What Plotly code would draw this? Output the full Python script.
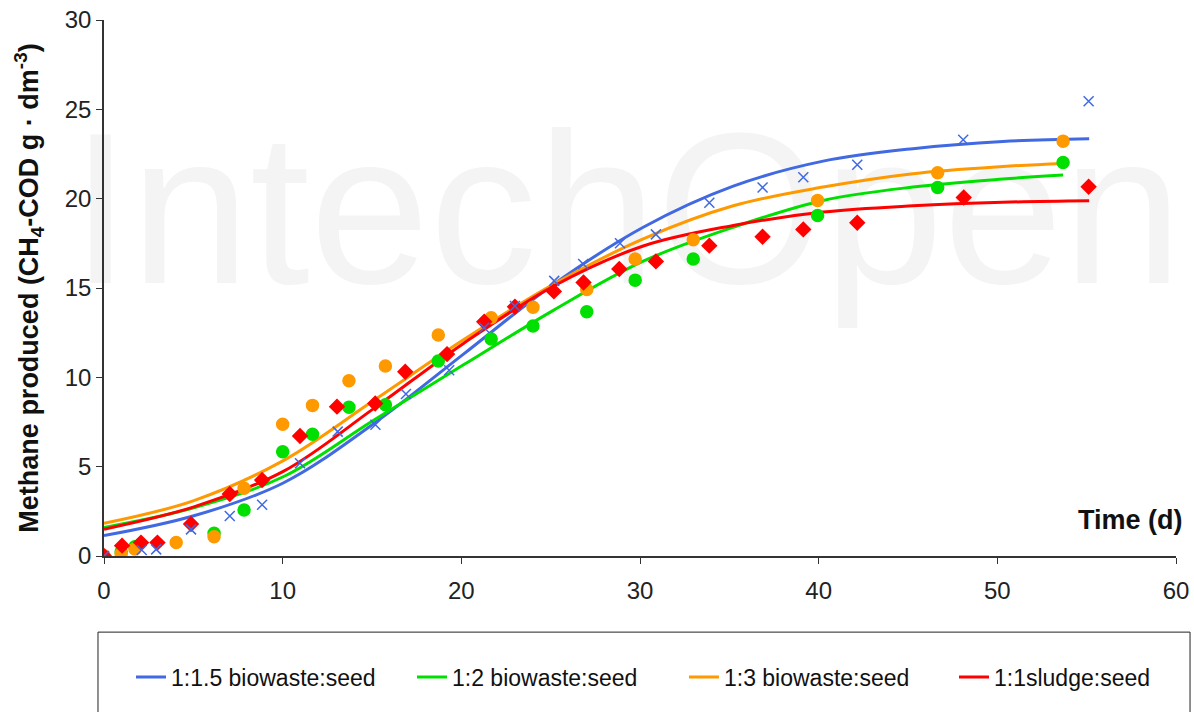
import plotly.graph_objects as go

# measured points (time in days, methane as CH4-COD g/dm3)
blue_t = [0, 2.11, 2.92, 4.87, 7.04, 8.85, 10.97, 13.08, 15.19, 16.9, 19.32, 21.28, 23.0,
          25.2, 26.82, 28.88, 30.89, 33.88, 36.86, 39.14, 42.16, 48.09, 55.11]
blue_y = [0, 0.34, 0.37, 1.49, 2.24, 2.87, 5.19, 6.96, 7.35, 9.07, 10.4, 12.78, 13.99,
          15.4, 16.34, 17.5, 18.0, 19.77, 20.63, 21.2, 21.9, 23.3, 25.45]

green_t = [0, 0.96, 1.73, 6.16, 7.84, 10.0, 11.67, 13.71, 15.75, 18.71, 21.67, 24.01,
           27.02, 29.73, 32.98, 39.94, 46.66, 53.68]
green_y = [0, 0.24, 0.52, 1.27, 2.57, 5.84, 6.81, 8.32, 8.47, 10.91, 12.14, 12.87,
           13.67, 15.44, 16.62, 19.06, 20.63, 22.03]

orange_t = [0, 0.96, 1.73, 4.04, 6.16, 7.84, 10.0, 11.67, 13.71, 15.75, 18.71, 21.67,
            24.01, 27.02, 29.73, 32.98, 39.94, 46.66, 53.68]
orange_y = [0, 0.13, 0.39, 0.75, 1.08, 3.79, 7.37, 8.43, 9.81, 10.63, 12.37, 13.34,
            13.92, 14.92, 16.62, 17.7, 19.9, 21.45, 23.22]

red_t = [0, 1.01, 2.07, 2.99, 4.87, 7.04, 8.85, 10.97, 13.04, 15.18, 16.86, 19.2, 21.28,
         23.0, 25.18, 26.84, 28.84, 30.89, 33.88, 36.86, 39.14, 42.16, 48.12, 55.11]
red_y = [0, 0.58, 0.75, 0.75, 1.79, 3.47, 4.25, 6.72, 8.36, 8.54, 10.31, 11.3, 13.11,
         13.95, 14.81, 15.31, 16.06, 16.49, 17.37, 17.87, 18.28, 18.65, 20.07, 20.67]

# fitted curves
fit_t = [0, 5.03, 10.06, 15.09, 20.12, 25.15, 30.18, 35.22, 40.25, 45.28, 50.31]

blue_fit_t = fit_t + [55.14]
blue_fit_y = [1.14, 2.25, 4.1, 7.4, 11.3, 15.2, 18.4, 20.7, 22.1, 22.8, 23.2, 23.35]

green_fit_t = fit_t + [53.68]
green_fit_y = [1.6, 2.7, 4.45, 7.6, 10.7, 13.75, 16.5, 18.4, 19.9, 20.65, 21.1, 21.32]

orange_fit_t = fit_t + [53.68]
orange_fit_y = [1.83, 3.1, 5.35, 8.7, 12.1, 15.2, 17.75, 19.6, 20.65, 21.4, 21.8, 21.97]

red_fit_t = fit_t + [55.14]
red_fit_y = [1.5, 2.75, 4.75, 8.25, 11.9, 15.1, 17.35, 18.5, 19.25, 19.6, 19.8, 19.88]

names = ["1:1.5 biowaste:seed", "1:2 biowaste:seed", "1:3 biowaste:seed", "1:1sludge:seed"]
colors = ["#4169E1", "#00E000", "#FF9900", "#FF0000"]
legend_ids = ["legend", "legend2", "legend3", "legend4"]
legend_x = [0.0252, 0.2873, 0.5410, 0.7929]

FONT = "Liberation Sans, Arial, sans-serif"

fig = go.Figure()

fits = [(blue_fit_t, blue_fit_y), (green_fit_t, green_fit_y),
        (orange_fit_t, orange_fit_y), (red_fit_t, red_fit_y)]
for (t, y), n, c, lg in zip(fits, names, colors, legend_ids):
    fig.add_trace(go.Scatter(x=t, y=y, mode="lines", name=n, legend=lg,
                             line=dict(color=c, width=3, shape="spline", smoothing=1.0)))

# markers on top of the lines
pts = [(green_t, green_y, colors[1], "circle", 12),
       (orange_t, orange_y, colors[2], "circle", 12),
       (red_t, red_y, colors[3], "diamond", 11),
       (blue_t, blue_y, colors[0], "x-thin-open", 10)]
for t, y, c, sym, sz in pts:
    fig.add_trace(go.Scatter(x=t, y=y, mode="markers", showlegend=False,
                             marker=dict(color=c, symbol=sym, size=sz,
                                         line=dict(color=c, width=1.5))))

legends = {}
for lg, lx in zip(legend_ids, legend_x):
    legends[lg] = dict(orientation="h", x=lx, xanchor="left", y=-0.2257, yanchor="middle",
                       font=dict(size=23, family=FONT, color="#111"),
                       bgcolor="rgba(0,0,0,0)")

fig.update_layout(
    width=1194, height=712,
    margin=dict(l=104, r=18, t=20, b=156, autoexpand=False),
    paper_bgcolor="white", plot_bgcolor="white",
    font=dict(family=FONT, size=24, color="#111"),
    shapes=[
        # invisible frame carrying the faint watermark text
        dict(type="rect", xref="paper", yref="paper", x0=-0.03, x1=1.005, y0=0.42, y1=0.95,
             line=dict(width=0), layer="below",
             label=dict(text="IntechOpen", font=dict(size=215, color="#f4f4f4", family=FONT))),
        # legend box
        dict(type="rect", xref="paper", yref="paper", x0=-0.0056, x1=1.0131, y0=-0.32, y1=-0.142,
             line=dict(color="#222", width=1)),
    ],
    annotations=[dict(x=60, y=2.0, xref="x", yref="y", text="<b>Time (d)</b>",
                      showarrow=False, xanchor="right", yanchor="middle", xshift=9,
                      font=dict(size=27, family=FONT, color="#111"))],
    **legends,
)

fig.update_xaxes(range=[0, 60], dtick=10, showgrid=False, zeroline=False,
                 showline=True, linecolor="#333", linewidth=1.5, automargin=False,
                 ticks="outside", ticklen=6, tickcolor="#333", ticklabelstandoff=6,
                 ticklabeloverflow="allow", tickfont=dict(size=24, color="#222"))
fig.update_yaxes(range=[0, 30], dtick=5, showgrid=False, zeroline=False,
                 showline=True, linecolor="#333", linewidth=1.5, automargin=False,
                 ticks="outside", ticklen=6, tickcolor="#333",
                 ticklabeloverflow="allow", tickfont=dict(size=24, color="#222"),
                 title=dict(text="<b>Methane produced (CH<sub>4</sub>-COD g · dm<sup>-3</sup>)</b>",
                            font=dict(size=27, color="#111"), standoff=18))

# drop the page's default body margin so the figure sits at the window corner
fig.write_html("out.html", config={"displayModeBar": False},
               post_script="document.body.style.margin='0';")
